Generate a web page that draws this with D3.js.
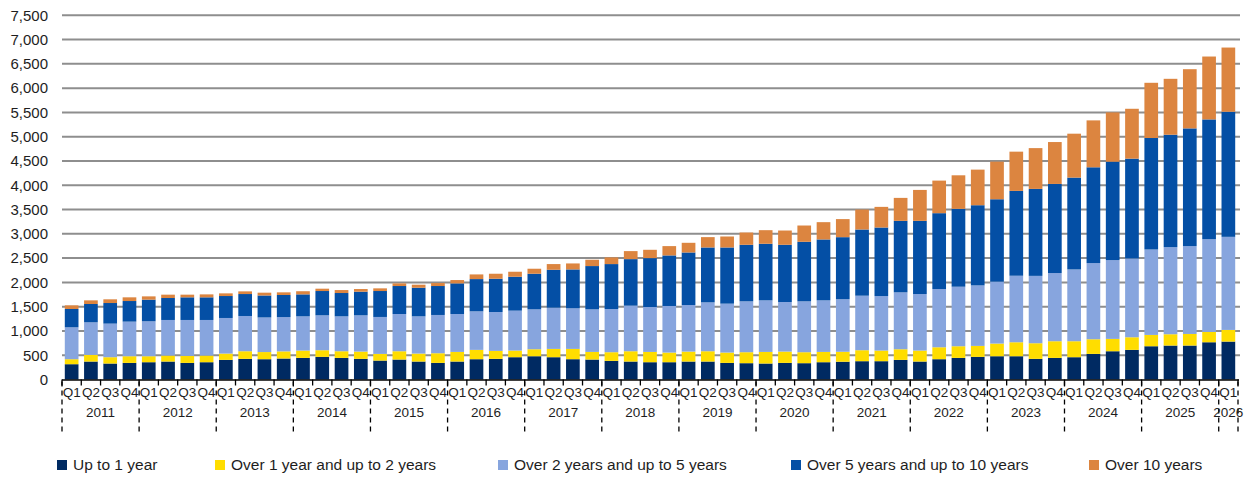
<!DOCTYPE html>
<html>
<head>
<meta charset="utf-8">
<script src="https://cdn.jsdelivr.net/npm/d3@7"></script>
<style>
  html, body { margin: 0; padding: 0; background: #ffffff; }
  svg { display: block; font-family: "Liberation Sans", Arial, sans-serif; }
</style>
</head>
<body>
<svg id="chart" width="1248" height="477"></svg>
<script>
// Quarterly outstanding amounts by residual maturity, 2011 Q1 – 2026 Q1
const years = [2011, 2012, 2013, 2014, 2015, 2016, 2017, 2018, 2019, 2020, 2021, 2022, 2023, 2024, 2025, 2026];
const quarterNames = ["Q1", "Q2", "Q3", "Q4"];
const lastYearQuarters = 1;

const seriesNames = [
  "Up to 1 year",
  "Over 1 year and up to 2 years",
  "Over 2 years and up to 5 years",
  "Over 5 years and up to 10 years",
  "Over 10 years"
];

const upTo1 = [315,370,329,342,356,370,342,356,404,425,
               418,432,445,466,445,425,390,411,370,342,
               370,418,425,459,479,459,418,411,384,370,
               356,356,370,370,342,336,329,342,336,356,
               366,377,377,404,370,418,445,466,479,479,
               425,445,459,527,582,610,685,699,699,767,
               781];
const over1to2 = [103,137,130,137,123,123,144,137,130,157,
                  147,147,151,137,137,150,137,171,164,199,
                  198,192,164,137,144,171,212,157,178,212,
                  212,199,205,212,213,226,239,233,226,212,
                  205,226,219,219,226,246,240,226,261,288,
                  322,343,329,302,254,260,233,233,239,212,
                  240];
const over2to5 = [657,671,692,713,720,733,740,733,733,726,
                  713,706,705,719,719,747,761,767,767,788,
                  781,794,801,822,822,849,836,877,890,939,
                  925,959,959,1007,1007,1048,1062,1021,1048,1062,
                  1083,1123,1123,1172,1164,1199,1226,1246,1274,1370,
                  1387,1404,1479,1568,1623,1623,1760,1794,1809,1911,
                  1917];
const over5to10 = [377,377,424,424,445,452,466,466,452,452,
                   452,455,452,500,480,486,534,576,589,596,
                   630,664,685,698,733,781,801,891,925,958,
                   1007,1041,1082,1130,1157,1164,1165,1178,1226,1254,
                   1277,1363,1411,1472,1507,1562,1603,1651,1698,1747,
                   1791,1835,1891,1973,2027,2055,2295,2315,2424,2466,
                   2576];
const over10 = [75,75,76,76,68,69,55,61,55,55,
                58,55,65,48,61,55,55,54,62,61,
                69,96,103,103,103,117,123,130,137,165,
                171,192,199,213,226,253,280,294,335,356,
                372,411,425,473,637,671,691,733,774,808,
                840,863,904,966,1014,1027,1137,1151,1219,1295,
                1322];

const yTicks = [0,500,1000,1500,2000,2500,3000,3500,4000,4500,5000,5500,6000,6500,7000,7500];
const colors = ["#002a62", "#ffdd00", "#87a5de", "#044fa5", "#dc8540"];

// Build period list and a row table for the stack layout
const periods = [];
years.forEach((yr, yi) => {
  const n = yi === years.length - 1 ? lastYearQuarters : 4;
  for (let q = 0; q < n; q++) periods.push({ year: yr, q: quarterNames[q], key: yr + quarterNames[q] });
});
const seriesValues = [upTo1, over1to2, over2to5, over5to10, over10];
const rows = periods.map((p, i) => {
  const r = { key: p.key };
  seriesNames.forEach((s, si) => { r[s] = seriesValues[si][i]; });
  return r;
});

const svg = d3.select("#chart");
const margin = { left: 62, right: 10, top: 15, bottom: 97 };
const W = 1248, H = 477;
const x0 = 62, x1 = 1238, yTop = 15.3, yBase = 379.5;

const x = d3.scaleBand()
  .domain(periods.map(p => p.key))
  .range([x0, x1])
  .paddingInner(0.29)
  .paddingOuter(0.145);

const y = d3.scaleLinear().domain([0, 7500]).range([yBase, yTop]);

// Horizontal gridlines
svg.append("g")
  .selectAll("line")
  .data(yTicks.filter(t => t > 0))
  .join("line")
  .attr("x1", x0).attr("x2", 1240)
  .attr("y1", d => y(d)).attr("y2", d => y(d))
  .attr("stroke", "#8e8e8e")
  .attr("stroke-width", 2);

// Y axis labels
const yAxis = d3.axisLeft(y).tickValues(yTicks).tickSize(0).tickPadding(14).tickFormat(d3.format(","));
svg.append("g")
  .attr("transform", `translate(${x0},0)`)
  .call(yAxis)
  .call(g => g.select(".domain").remove())
  .call(g => g.selectAll("text")
    .attr("font-size", 15)
    .attr("font-family", "Liberation Sans, Arial, sans-serif")
    .attr("fill", "#1e1e1e"));

// Stacked bars
const stack = d3.stack().keys(seriesNames);
const layers = stack(rows);
svg.append("g")
  .selectAll("g")
  .data(layers)
  .join("g")
  .attr("fill", (d, i) => colors[i])
  .selectAll("rect")
  .data(d => d)
  .join("rect")
  .attr("x", d => x(d.data.key))
  .attr("width", x.bandwidth())
  .attr("y", d => y(d[1]))
  .attr("height", d => y(d[0]) - y(d[1]));

// X axis: baseline, quarter ticks and labels
const step = x.step();
const axisG = svg.append("g");
axisG.append("line")
  .attr("x1", x0).attr("x2", x1 + 1)
  .attr("y1", yBase + 0.5).attr("y2", yBase + 0.5)
  .attr("stroke", "#000").attr("stroke-width", 1.5);

const boundaries = d3.range(periods.length + 1).map(i => x0 + i * step);
axisG.selectAll("line.qtick")
  .data(boundaries)
  .join("line")
  .attr("class", "qtick")
  .attr("x1", d => d).attr("x2", d => d)
  .attr("y1", yBase).attr("y2", yBase + 6)
  .attr("stroke", "#000").attr("stroke-width", 1.3);

axisG.selectAll("text.q")
  .data(periods)
  .join("text")
  .attr("class", "q")
  .attr("x", d => x(d.key) + x.bandwidth() / 2)
  .attr("y", yBase + 17)
  .attr("text-anchor", "middle")
  .attr("font-size", 13.5)
  .attr("fill", "#1e1e1e")
  .text(d => d.q);

// Year groups: dashed separators and centred year labels
const yearGroups = years.map(yr => {
  const ps = periods.filter(p => p.year === yr);
  const start = x(ps[0].key) - x.paddingInner() * step / 2;
  const end = x(ps[ps.length - 1].key) + x.bandwidth() + x.paddingInner() * step / 2;
  return { year: yr, start, end };
});
const sepXs = [yearGroups[0].start].concat(yearGroups.map(g => g.end));
axisG.selectAll("line.ysep")
  .data(sepXs)
  .join("line")
  .attr("class", "ysep")
  .attr("x1", d => d).attr("x2", d => d)
  .attr("y1", yBase + 2).attr("y2", yBase + 53)
  .attr("stroke", "#000").attr("stroke-width", 1.3)
  .attr("stroke-dasharray", "5,4");

axisG.selectAll("text.yr")
  .data(yearGroups)
  .join("text")
  .attr("class", "yr")
  .attr("x", d => (d.start + d.end) / 2)
  .attr("y", yBase + 37)
  .attr("text-anchor", "middle")
  .attr("font-size", 13.5)
  .attr("fill", "#1e1e1e")
  .text(d => d.year);

// Legend
const legendX = [57, 215, 498, 791, 1089];
const legend = svg.append("g").selectAll("g")
  .data(seriesNames)
  .join("g")
  .attr("transform", (d, i) => `translate(${legendX[i]},460)`);
legend.append("rect")
  .attr("width", 10).attr("height", 10)
  .attr("fill", (d, i) => colors[i]);
legend.append("text")
  .attr("x", 16).attr("y", 10)
  .attr("font-size", 15.5)
  .attr("fill", "#1e1e1e")
  .text(d => d);
</script>
</body>
</html>
